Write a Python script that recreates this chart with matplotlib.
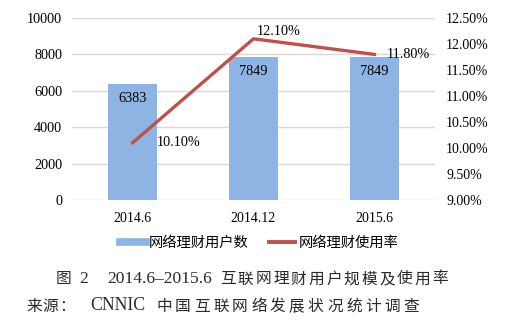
import matplotlib
matplotlib.use("Agg")
import matplotlib.pyplot as plt
from matplotlib.ticker import FuncFormatter
from matplotlib.lines import Line2D

categories = ["2014.6", "2014.12", "2015.6"]
users = [6383, 7849, 7849]
rates = [10.10, 12.10, 11.80]
left_ticks = [0, 2000, 4000, 6000, 8000, 10000]
right_ticks = [9.0, 9.5, 10.0, 10.5, 11.0, 11.5, 12.0, 12.5]
bar_name = "网络理财用户数"
line_name = "网络理财使用率"
cap_label = "图"
cap_num = "2"
cap_range = "2014.6–2015.6"
cap_title = "互联网理财用户规模及使用率"
src_label = "来源："
src_org = "CNNIC"
src_title = "中国互联网络发展状况统计调查"

W, H = 507, 328
fig = plt.figure(figsize=(W / 100, H / 100), dpi=100)
ax = fig.add_axes([72 / W, (H - 200) / H, 363 / W, 182 / H])
ax2 = ax.twinx()

serif = ["Liberation Serif", "DejaVu Serif"]
cjk = ["Noto Sans CJK SC", "DejaVu Sans"]

bar_c = "#8db4e2"
line_c = "#c0504d"
x = list(range(len(categories)))

ax.bar(x, users, width=0.4, color=bar_c, zorder=2, label=bar_name)
ax.set_xlim(-0.5, 2.5)
ax.set_ylim(0, 10000)
ax.set_yticks(left_ticks)
ax.grid(axis="y", color="#d9d9d9", linewidth=1, zorder=0)
ax.set_axisbelow(True)
ax.tick_params(axis="y", length=0, pad=7)
ax.tick_params(axis="x", length=0, pad=9)
ax.set_xticks(x)
ax.set_xticklabels(categories, fontfamily=serif, fontsize=10)
for lab in ax.get_yticklabels():
    lab.set_fontfamily(serif)
    lab.set_fontsize(10.3)
for s in ax.spines.values():
    s.set_visible(False)
for s in ax2.spines.values():
    s.set_visible(False)

for xi, v in zip(x, users):
    ax.text(xi, v - 450, f"{v}", ha="center", va="top", fontfamily=serif, fontsize=10.3, zorder=3)

ax2.plot(x, rates, color=line_c, linewidth=2.4, zorder=4, label=line_name)
ax2.set_ylim(9.0, 12.5)
ax2.set_yticks(right_ticks)
ax2.yaxis.set_major_formatter(FuncFormatter(lambda v, p: f"{v:.2f}%"))
ax2.tick_params(length=0, pad=8)
for lab in ax2.get_yticklabels():
    lab.set_fontfamily(serif)
    lab.set_fontsize(10)

offsets = [(0.2, 0.0, "left", "center"), (0.03, 0.02, "left", "bottom"), (0.1, 0.0, "left", "center")]
for xi, r, (dx, dy, ha, va) in zip(x, rates, offsets):
    ax2.text(xi + dx, r + dy, f"{r:.2f}%", ha=ha, va=va, fontfamily=serif, fontsize=10.3, zorder=5)

handles = [Line2D([0], [0], color=bar_c, linewidth=5.5), Line2D([0], [0], color=line_c, linewidth=2.8)]
fig.legend(handles, [bar_name, line_name], loc="center", bbox_to_anchor=(259 / W, 1 - 243 / H),
           ncol=2, frameon=False, prop={"family": cjk, "size": 10.3}, handlelength=1.8,
           columnspacing=1.4, handletextpad=0.25)

txt_c = "#2a2a2a"


def put(xp, yp, s, family, size):
    fig.text(xp / W, 1 - yp / H, s, ha="left", va="center", fontfamily=family, fontsize=size, color=txt_c)


def put_spaced(xp, yp, s, pitch, family, size):
    for i, ch in enumerate(s):
        put(xp + i * pitch, yp, ch, family, size)


# caption line
cy = 279
put(56, cy, cap_label, cjk, 11.3)
put(79, cy, cap_num, serif, 12.5)
put(107, cy, cap_range, serif, 12.6)
put_spaced(220, cy, cap_title, 17.7, cjk, 11.3)

# source line
sy = 306
put_spaced(26, sy, src_label, 16.5, cjk, 11.3)
put(90, sy, src_org, serif, 12.8)
put_spaced(156, sy, src_title, 19.0, cjk, 11.3)

fig.savefig("out.png", dpi=100)
